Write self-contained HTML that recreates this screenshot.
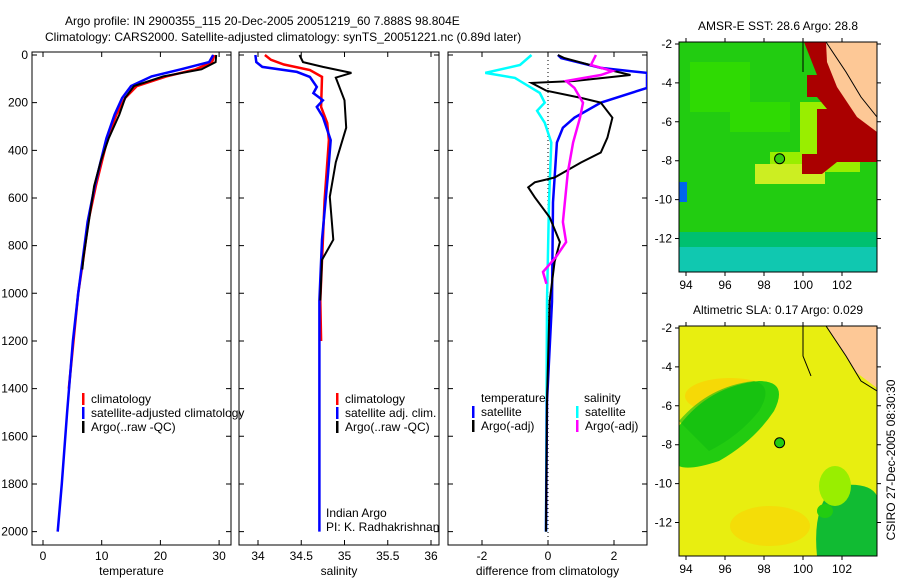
<!DOCTYPE html>
<html><head><meta charset="utf-8"><style>
body{margin:0;background:#fff;}
svg{display:block;font-family:"Liberation Sans",sans-serif;font-size:12px;}
</style></head><body>
<svg id="fig" width="900" height="580" xmlns="http://www.w3.org/2000/svg">
<text x="65" y="25">Argo profile: IN 2900355_115 20-Dec-2005 20051219_60 7.888S 98.804E</text>
<text x="45" y="41">Climatology: CARS2000. Satellite-adjusted climatology: synTS_20051221.nc (0.89d later)</text>
<g id="p1"></g>
<g id="p2"></g>
<g id="p3"></g>
<g id="m1"></g>
<g id="m2"></g>
<text transform="translate(895,460) rotate(-90)" text-anchor="middle">CSIRO 27-Dec-2005 08:30:30</text>
</svg>
<script>
// ---- data ----
const depthTicks=[0,200,400,600,800,1000,1200,1400,1600,1800,2000];
const tempTicks=[0,10,20,30];
const salTicks=[34,34.5,35,35.5,36];
const diffTicks=[-2,0,2];
const tClimD=[0,30,60,90,130,180,250,350,450,550,700,850,1000,1200,1400];
const tClimV=[29.2,28.8,26,21,16,14,12.5,11,10,9,7.7,6.9,6,5.2,4.4];
const tSatD=[0,30,60,90,130,180,250,350,450,550,700,850,1000,1200,1500,1800,2000];
const tSatV=[29.0,28.3,23.5,18.5,15,13.5,12.2,10.8,9.8,8.8,7.6,6.8,6,5.1,4.1,3.2,2.5];
const tArgoD=[0,30,60,90,130,180,250,350,450,550,700,850,900];
const tArgoV=[29.5,29.4,27,20.5,15.5,14,13,11.2,9.8,8.7,7.8,6.9,6.7];
const sClimD=[0,20,40,63,92,218,285,357,608,1030,1200];
const sClimV=[34.08,34.15,34.3,34.6,34.74,34.73,34.8,34.82,34.77,34.72,34.73];
const sSatD=[0,30,50,71,92,134,160,190,218,260,357,495,775,1030,1500,2000];
const sSatV=[33.97,33.98,34.05,34.45,34.6,34.68,34.64,34.75,34.68,34.75,34.84,34.81,34.74,34.71,34.71,34.71];
const sArgoD=[0,30,50,75,95,190,305,450,595,775,860,1030];
const sArgoV=[34.48,34.52,34.75,35.08,34.9,35.0,35.02,34.9,34.83,34.87,34.74,34.72];
const dTSatD=[0,13,54,75,138,200,263,305,367,618,1035,1453,2000];
const dTSatV=[0.3,0.4,1.6,3.0,3.0,1.6,0.8,0.45,0.27,0.15,0.12,-0.03,-0.06];
const dTArgoD=[0,13,54,84,109,117,150,180,200,263,347,409,451,514,534,555,597,681,785,868,1035,1453,2000];
const dTArgoV=[0.3,0.5,1.6,2.5,0.8,-0.5,-0.05,1.0,1.6,1.95,1.8,1.6,1.0,0.2,-0.4,-0.6,-0.4,0.05,0.36,0.2,0.05,-0.03,-0.06];
const dSSatD=[0,42,75,96,109,159,200,234,284,367,618,1035,2000];
const dSSatV=[-0.5,-0.85,-1.9,-1.0,-0.85,-0.25,-0.1,-0.33,-0.1,0.1,0.03,-0.03,-0.06];
const dSArgoD=[0,42,67,84,109,138,200,263,367,493,701,785,848,910,960];
const dSArgoV=[1.45,1.3,1.95,1.6,0.55,0.8,1.06,0.97,0.76,0.6,0.45,0.55,0.24,-0.15,-0.05];
const latTicks=[-2,-4,-6,-8,-10,-12];
const lonTicks=[94,96,98,100,102];

const NS='http://www.w3.org/2000/svg';
function mk(parent,tag,attrs,txt){const e=document.createElementNS(NS,tag);for(const k in attrs)e.setAttribute(k,attrs[k]);if(txt!==undefined)e.textContent=txt;parent.appendChild(e);return e;}
const yD=d=>55+d*0.2383;

function panel(g,x0,x1,xs,ticks,label,showDepth){
  const r=mk(g,'rect',{x:x0,y:52,width:x1-x0,height:493,fill:'none',stroke:'#000'});
  
  
  ticks.forEach(t=>{const x=xs(t);
    const l=mk(g,'path',{d:`M${x},545v-5M${x},52v5`,stroke:'#000'});
    
    
    const tx=mk(g,'text',{x:x,y:560,'text-anchor':'middle'},String(t));
    
    
  });
  depthTicks.forEach(d=>{const y=yD(d);
    const l=mk(g,'path',{d:`M${x0},${y}h5M${x1},${y}h-5`,stroke:'#000'});
    
    
    if(showDepth){const tx=mk(g,'text',{x:28,y:y+4,'text-anchor':'end'},String(d));
      
      }
  });
  const xl=mk(g,'text',{x:(x0+x1)/2,y:575,'text-anchor':'middle'},label);
  
  
}
function line(g,xs,D,V,col,w,name){
  const p=D.map((d,i)=>`${i?'L':'M'}${xs(V[i]).toFixed(1)},${yD(d).toFixed(1)}`).join('');
  const e=mk(g,'path',{d:p,fill:'none',stroke:col,'stroke-width':w});
  
  
}
function legend(g,x,y,col,txt){
  const b=mk(g,'rect',{x:x,y:y-10,width:2.5,height:12,fill:col});
  
  
  const t=mk(g,'text',{x:x+9,y:y},txt);
  
  
}
// panel 1
const p1=document.getElementById('p1');
const xT=v=>43+v*5.87;
panel(p1,32,231,xT,tempTicks,'temperature',true);
line(p1,xT,tClimD,tClimV,'#f00',2.5,'temp-climatology-line');
line(p1,xT,tSatD,tSatV,'#00f',2.5,'temp-satellite-line');
line(p1,xT,tArgoD,tArgoV,'#000',2,'temp-argo-line');
legend(p1,82,403,'#f00','climatology');
legend(p1,82,417,'#00f','satellite-adjusted climatology');
legend(p1,82,431,'#000','Argo(..raw -QC)');
// panel 2
const p2=document.getElementById('p2');
const xS=v=>258+(v-34)*86.5;
panel(p2,239,439,xS,salTicks,'salinity',false);
line(p2,xS,sClimD,sClimV,'#f00',2.5,'sal-climatology-line');
line(p2,xS,sSatD,sSatV,'#00f',2.5,'sal-satellite-line');
line(p2,xS,sArgoD,sArgoV,'#000',2,'sal-argo-line');
legend(p2,336,403,'#f00','climatology');
legend(p2,336,417,'#00f','satellite adj. clim.');
legend(p2,336,431,'#000','Argo(..raw -QC)');
let t=mk(p2,'text',{x:326,y:517},'Indian Argo');
t=mk(p2,'text',{x:326,y:531},'PI: K. Radhakrishnan');
// panel 3
const p3=document.getElementById('p3');
const xF=v=>548+v*33;
panel(p3,448,647,xF,diffTicks,'difference from climatology',false);
const z=mk(p3,'path',{d:`M${xF(0)},52V545`,stroke:'#000','stroke-dasharray':'1,3'});


const cp=mk(p3,'clipPath',{id:'c3'});mk(cp,'rect',{x:448,y:52,width:199,height:493});
const g3=mk(p3,'g',{'clip-path':'url(#c3)'});
line(g3,xF,dSSatD,dSSatV,'#0ff',2.5,'sal-diff-satellite-line');
line(g3,xF,dTSatD,dTSatV,'#00f',2.5,'temp-diff-satellite-line');
line(g3,xF,dTArgoD,dTArgoV,'#000',2,'temp-diff-argo-line');
line(g3,xF,dSArgoD,dSArgoV,'#f0f',2.5,'sal-diff-argo-line');
t=mk(p3,'text',{x:481,y:402},'temperature');
t=mk(p3,'text',{x:584,y:402},'salinity');
legend(p3,472,416,'#00f','satellite');
legend(p3,472,430,'#000','Argo(-adj)');
legend(p3,576,416,'#0ff','satellite');
legend(p3,576,430,'#f0f','Argo(-adj)');
// maps
const latY=(top,l)=>top+2+(-2-l)*19.45;
const lonX=l=>686+(l-94)*19.5;
function map(id,top,title,kind){
  const g=document.getElementById(id);
  const cpm=mk(g,'clipPath',{id:'cm'+id});mk(cpm,'rect',{x:679,y:top,width:198,height:230});
  const gg=mk(g,'g',{'clip-path':`url(#cm${id})`});
  if(kind===1){
    mk(gg,'rect',{x:679,y:top,width:198,height:230,fill:'#22cc11'});
    mk(gg,'rect',{x:679,y:top+190,width:198,height:40,fill:'#00c070'});
    mk(gg,'rect',{x:679,y:top+205,width:198,height:25,fill:'#10c8b0'});
    mk(gg,'path',{d:`M690,${top+20}h60v40h40v30h-60v-20h-40z`,fill:'#33dd00',opacity:'0.8'});
    mk(gg,'path',{d:`M800,${top+60}h60v70h-90v-20h30z`,fill:'#99ee00'});
    mk(gg,'path',{d:`M755,${top+122}h70v20h-70z`,fill:'#ccee22'});
    mk(gg,'path',{d:`M804,${top}h45l10,30l18,10v80h-40l-15,12h-20v-20h15v-45h10l-10,-12h-10v-22h10z`,fill:'#aa0000'});
    mk(gg,'path',{d:`M826,${top}h51v90l-20,-15l-20,-30l-10,-25z`,fill:'#fdc896'});
    mk(gg,'rect',{x:679,y:top+140,width:8,height:20,fill:'#0066ee'});
    mk(gg,'path',{d:`M803,${top}v30M826,${top}l20,30l15,25l16,20`,stroke:'#000',fill:'none'});
    mk(gg,'circle',{cx:lonX(98.8),cy:latY(top,-7.9),r:5,fill:'#33cc11',stroke:'#000'});
  } else {
    mk(gg,'rect',{x:679,y:top,width:198,height:230,fill:'#e8ee10'});
    mk(gg,'ellipse',{cx:730,cy:top+70,rx:45,ry:18,fill:'#ffcc00',opacity:'0.6'});
    mk(gg,'ellipse',{cx:770,cy:top+200,rx:40,ry:20,fill:'#ffcc00',opacity:'0.5'});
    mk(gg,'path',{d:`M679,${top+100}q30,-40 80,-45q30,0 15,30q-20,30 -55,50q-30,10 -40,5z`,fill:'#22cc11'});
    mk(gg,'path',{d:`M679,${top+95}q30,-35 75,-40q20,5 5,30q-20,25 -50,40z`,fill:'#11bb11',opacity:'0.6'});
    mk(gg,'path',{d:`M835,${top+160}q35,-5 42,10v60h-60q-5,-50 18,-70z`,fill:'#11bb33'});
    mk(gg,'ellipse',{cx:835,cy:top+160,rx:16,ry:20,fill:'#99ee00'});
    mk(gg,'ellipse',{cx:825,cy:top+185,rx:8,ry:7,fill:'#22cc11'});
    mk(gg,'path',{d:`M826,${top}h51v62l-20,-15l-20,-30l-10,-17z`,fill:'#fdc896'});
    mk(gg,'path',{d:`M803,${top}v30l8,20M826,${top}l20,30l15,25l16,10`,stroke:'#000',fill:'none'});
    mk(gg,'circle',{cx:lonX(98.8),cy:latY(top,-7.9),r:5,fill:'#22cc11',stroke:'#000'});
  }
  const f=mk(g,'rect',{x:679,y:top,width:198,height:230,fill:'none',stroke:'#000'});
  
  
  latTicks.forEach(l=>{const y=latY(top,l);
    const tk=mk(g,'path',{d:`M679,${y}h-4M877,${y}h4`,stroke:'#000'});
    
    
    const tx=mk(g,'text',{x:672,y:y+4,'text-anchor':'end'},String(l));
    
    
  });
  lonTicks.forEach(l=>{const x=lonX(l);
    const tk=mk(g,'path',{d:`M${x},${top+230}v4M${x},${top}v-4`,stroke:'#000'});
    
    
    const tx=mk(g,'text',{x:x,y:top+247,'text-anchor':'middle'},String(l));
    
    
  });
  const tt=mk(g,'text',{x:778,y:top-12,'text-anchor':'middle'},title);
  
  
}
map('m1',42,'AMSR-E SST: 28.6 Argo: 28.8',1);
map('m2',326,'Altimetric SLA: 0.17 Argo: 0.029',2);
</script>
</body></html>
